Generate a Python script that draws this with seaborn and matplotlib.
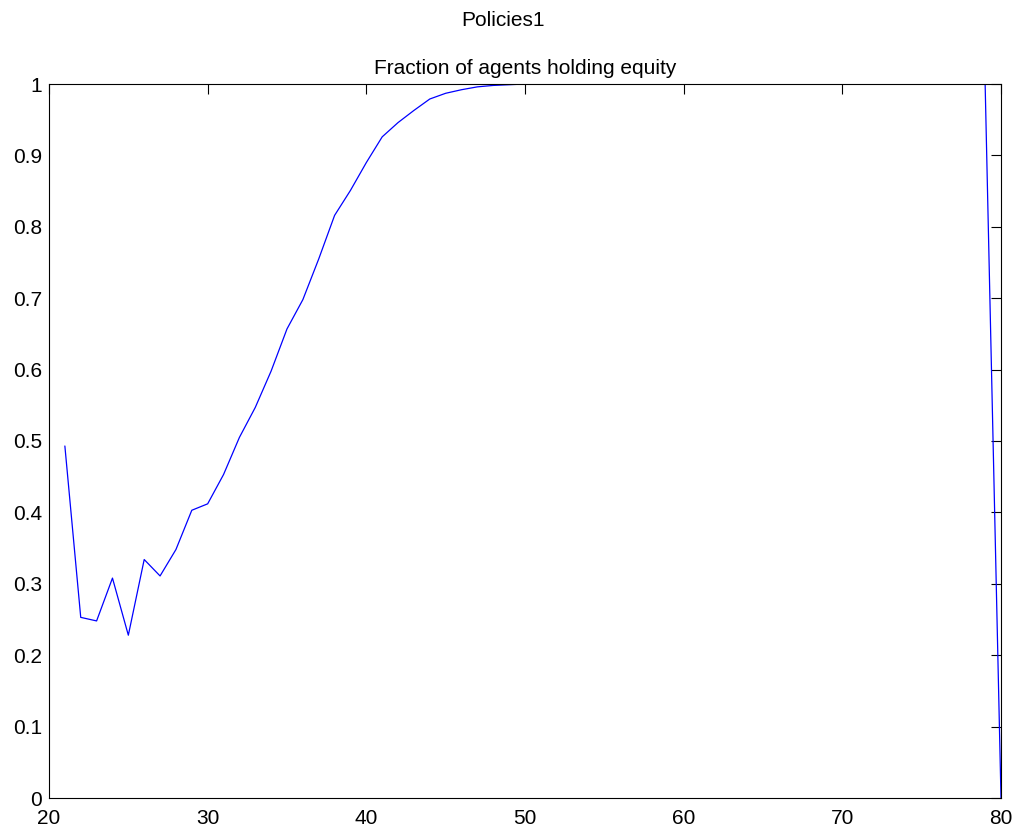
import numpy as np
import pandas as pd
import matplotlib
matplotlib.use("Agg")
import matplotlib.pyplot as plt
import seaborn as sns

ages = list(range(21, 81))
early = [0.493, 0.253, 0.248, 0.308, 0.228, 0.334, 0.311, 0.348, 0.403, 0.412,
         0.453, 0.505, 0.547, 0.598, 0.657, 0.698, 0.755, 0.816, 0.851, 0.890,
         0.926, 0.946, 0.963, 0.979, 0.987, 0.992, 0.996, 0.998, 0.999]
plateau = [1.0] * 30
last = [0.0]
fraction = early + plateau + last

xticks = [20, 30, 40, 50, 60, 70, 80]
yticks = [0, 0.1, 0.2, 0.3, 0.4, 0.5, 0.6, 0.7, 0.8, 0.9, 1]
ytick_labels = ["0", "0.1", "0.2", "0.3", "0.4", "0.5", "0.6", "0.7", "0.8", "0.9", "1"]

df = pd.DataFrame({"age": ages, "fraction": fraction})

sns.set_theme(style="white")
plt.rcParams['font.family'] = ['Liberation Sans', 'DejaVu Sans']

fig = plt.figure(figsize=(10.23, 8.31), dpi=100)
ax = fig.add_axes([49 / 1023, 1 - 798 / 831, (1001 - 49) / 1023, (798 - 84) / 831])
sns.lineplot(data=df, x="age", y="fraction", ax=ax, color="#0000ff", linewidth=0.9)

ax.set_xlim(20, 80)
ax.set_ylim(0, 1)
ax.set_xticks(xticks)
ax.set_xticklabels([str(t) for t in xticks])
ax.set_yticks(yticks)
ax.set_yticklabels(ytick_labels)
ax.set_xlabel("")
ax.set_ylabel("")
ax.tick_params(direction="in", top=True, right=True, length=7, width=0.8,
               labelsize=15, colors="black", labelcolor="black")
ax.tick_params(axis="x", pad=8)
ax.tick_params(axis="y", pad=5)
for s in ax.spines.values():
    s.set_color("black")
    s.set_linewidth(0.8)

ax.set_title("Fraction of agents holding equity", fontsize=15, pad=7, color="black")
fig.suptitle("Policies1", fontsize=15, x=503 / 1023, y=1 - 21 / 831, va="center", color="black")

fig.savefig("out.png", dpi=100, facecolor="white")
